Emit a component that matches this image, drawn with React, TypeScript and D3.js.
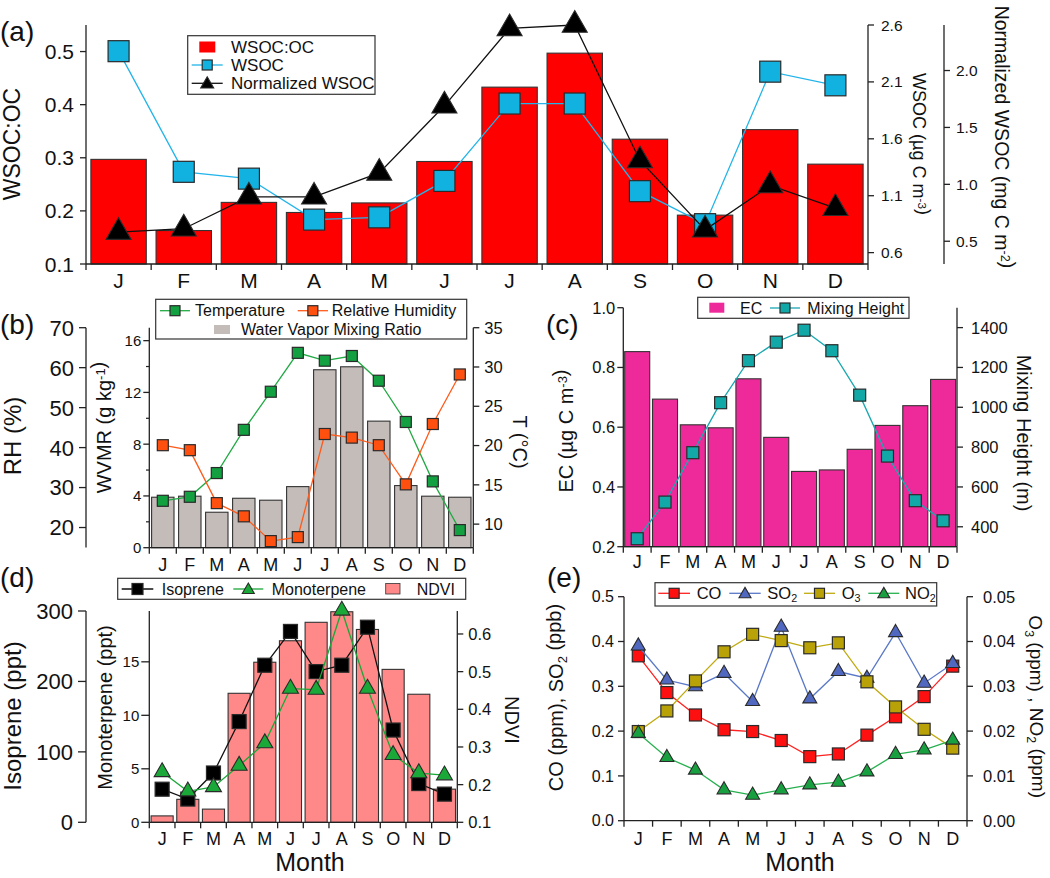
import React from "react";
import * as d3 from "d3";

const FONT = "'Liberation Sans', Arial, Helvetica, sans-serif";
const AXIS = "#222";
const MARK_STROKE = "#2a2a2a";

const monthLabels = ["J", "F", "M", "A", "M", "J", "J", "A", "S", "O", "N", "D"];
const idx = d3.range(12);

// (a)
const wsocOcRatio = [0.297, 0.163, 0.216, 0.197, 0.215, 0.293, 0.433, 0.497, 0.335, 0.192, 0.353, 0.288];
const wsocConc = [2.37, 1.31, 1.25, 0.89, 0.91, 1.23, 1.91, 1.91, 1.14, 0.85, 2.19, 2.07];
const normalizedWsoc = [0.58, 0.61, 0.89, 0.89, 1.1, 1.69, 2.37, 2.4, 1.21, 0.6, 0.99, 0.79];
const ticksRatio = [0.1, 0.2, 0.3, 0.4, 0.5];
const ticksWsoc = [0.6, 1.1, 1.6, 2.1, 2.6];
const ticksNorm = [0.5, 1.0, 1.5, 2.0];

// (b)
const wvmr = [3.9, 3.98, 2.74, 3.82, 3.67, 4.72, 13.75, 13.98, 9.78, 4.8, 3.98, 3.9];
const temperature = [12.97, 13.48, 16.5, 22.0, 26.85, 31.8, 30.8, 31.4, 28.25, 23.0, 15.44, 9.24];
const relHumidity = [40.6, 39.35, 26.1, 22.8, 16.6, 17.6, 43.4, 42.5, 40.6, 30.8, 45.9, 58.3];
const ticksRH = [20, 30, 40, 50, 60, 70];
const ticksWvmr = [0, 4, 8, 12, 16];
const minorWvmr = [2, 6, 10, 14];
const ticksT = [10, 15, 20, 25, 30, 35];

// (c)
const ec = [0.853, 0.694, 0.608, 0.598, 0.762, 0.566, 0.452, 0.457, 0.526, 0.606, 0.672, 0.76];
const mixingHeight = [340, 524, 772, 1023, 1234, 1327, 1387, 1284, 1061, 755, 531, 430];
const ticksEC = [0.2, 0.4, 0.6, 0.8, 1.0];
const ticksMH = [400, 600, 800, 1000, 1200, 1400];

// (d)
const ndvi = [0.117, 0.161, 0.135, 0.4425, 0.525, 0.582, 0.631, 0.659, 0.612, 0.506, 0.44, 0.188];
const isoprene = [47, 33, 70, 143, 223, 271, 214, 223, 277, 131, 55, 40];
const monoterpene = [4.7, 2.9, 3.3, 5.3, 7.4, 12.5, 12.4, 19.8, 12.5, 6.3, 4.6, 4.4];
const ticksIso = [0, 100, 200, 300];
const ticksMono = [0, 5, 10, 15];
const ticksNdvi = [0.1, 0.2, 0.3, 0.4, 0.5, 0.6];

// (e)
const co = [0.368, 0.286, 0.236, 0.203, 0.199, 0.179, 0.143, 0.149, 0.191, 0.232, 0.277, 0.345];
const so2 = [0.39, 0.314, 0.299, 0.329, 0.266, 0.432, 0.272, 0.333, 0.318, 0.42, 0.307, 0.351];
const o3 = [0.0199, 0.0245, 0.0312, 0.0377, 0.0416, 0.0402, 0.0386, 0.0397, 0.031, 0.0254, 0.0204, 0.0162];
const no2 = [0.0195, 0.0141, 0.0113, 0.0069, 0.0057, 0.0069, 0.008, 0.0086, 0.0109, 0.0148, 0.0158, 0.018];
const ticksE = [0, 0.1, 0.2, 0.3, 0.4, 0.5];
const ticksE2 = [0, 0.01, 0.02, 0.03, 0.04, 0.05];

type Lin = d3.ScaleLinear<number, number>;
type Band = d3.ScaleBand<number>;

function band(x0: number, x1: number, p: number): Band {
  return d3.scaleBand<number>().domain(idx).range([x0, x1]).paddingInner(p).paddingOuter(p / 2);
}

function YAxis(props: {
  scale: Lin; x: number; side: "left" | "right"; ticks: number[]; fmt: (v: number) => string;
  fontSize: number; tickLen?: number; gap?: number; minor?: number[]; y0?: number; y1?: number;
}) {
  const { scale, x, side, ticks, fmt, fontSize, tickLen = 6, gap = 4, minor = [] } = props;
  const r = scale.range();
  const y0 = props.y0 ?? r[0];
  const y1 = props.y1 ?? r[1];
  const d = side === "left" ? -1 : 1;
  return (
    <g>
      <line x1={x} x2={x} y1={y0} y2={y1} stroke={AXIS} strokeWidth={1.3} />
      {ticks.map((t) => (
        <g key={"t" + t}>
          <line x1={x} x2={x + d * tickLen} y1={scale(t)} y2={scale(t)} stroke={AXIS} strokeWidth={1.3} />
          <text x={x + d * (tickLen + gap)} y={scale(t)} dy="0.36em" textAnchor={side === "left" ? "end" : "start"} fontSize={fontSize}>
            {fmt(t)}
          </text>
        </g>
      ))}
      {minor.map((t) => (
        <line key={"m" + t} x1={x} x2={x + d * tickLen * 0.55} y1={scale(t)} y2={scale(t)} stroke={AXIS} strokeWidth={1.2} />
      ))}
    </g>
  );
}

function XAxis(props: { xs: Band; y: number; fontSize: number; labelY: number; tickLen?: number }) {
  const { xs, y, fontSize, labelY, tickLen = 6 } = props;
  const [x0, x1] = xs.range();
  const step = xs.step();
  return (
    <g>
      <line x1={x0} x2={x1} y1={y} y2={y} stroke={AXIS} strokeWidth={1.3} />
      {d3.range(13).map((i) => (
        <line key={i} x1={x0 + i * step} x2={x0 + i * step} y1={y} y2={y + tickLen} stroke={AXIS} strokeWidth={1.3} />
      ))}
      {monthLabels.map((l, i) => (
        <text key={i} x={x0 + (i + 0.5) * step} y={labelY} textAnchor="middle" fontSize={fontSize}>
          {l}
        </text>
      ))}
    </g>
  );
}

function Bars(props: { xs: Band; ys: Lin; data: number[]; fill: string }) {
  const { xs, ys, data, fill } = props;
  const base = ys(ys.domain()[0]);
  return (
    <g>
      {data.map((v, i) => (
        <rect key={i} x={xs(i)} y={ys(v)} width={xs.bandwidth()} height={base - ys(v)} fill={fill} stroke="#333" strokeWidth={1.1} />
      ))}
    </g>
  );
}

function Square(props: { x: number; y: number; s: number; fill: string }) {
  const { x, y, s, fill } = props;
  return <rect x={x - s / 2} y={y - s / 2} width={s} height={s} fill={fill} stroke={MARK_STROKE} strokeWidth={1.2} />;
}

function Tri(props: { x: number; y: number; w: number; fill: string }) {
  const { x, y, w, fill } = props;
  const area = (Math.sqrt(3) / 4) * w * w;
  const p = d3.symbol().type(d3.symbolTriangle).size(area)() as string;
  return <path d={p} transform={`translate(${x},${y})`} fill={fill} stroke={MARK_STROKE} strokeWidth={1.1} />;
}

function Series(props: {
  xs: Band; ys: Lin; data: number[]; line: string; fill: string; shape: "sq" | "tri"; size: number; lw?: number;
}) {
  const { xs, ys, data, line, fill, shape, size, lw = 1.3 } = props;
  const cx = (i: number) => (xs(i) as number) + xs.bandwidth() / 2;
  const gen = d3.line<number>().x((_, i) => cx(i)).y((d) => ys(d));
  return (
    <g>
      <path d={gen(data) as string} fill="none" stroke={line} strokeWidth={lw} />
      {data.map((v, i) =>
        shape === "sq" ? (
          <Square key={i} x={cx(i)} y={ys(v)} s={size} fill={fill} />
        ) : (
          <Tri key={i} x={cx(i)} y={ys(v)} w={size} fill={fill} />
        )
      )}
    </g>
  );
}

function VLabel(props: { x: number; y: number; rot: number; fontSize: number; children: React.ReactNode }) {
  const { x, y, rot, fontSize, children } = props;
  return (
    <text transform={`translate(${x},${y}) rotate(${rot})`} textAnchor="middle" fontSize={fontSize}>
      {children}
    </text>
  );
}

const Sup = (props: { t: string }) => (
  <>
    <tspan dy="-0.45em" fontSize="0.65em">{props.t}</tspan>
    <tspan dy="0.3em">{""}</tspan>
  </>
);

function LegendLine(props: { x0: number; x1: number; y: number; color: string; shape: "sq" | "tri"; fill: string; size: number }) {
  const { x0, x1, y, color, shape, fill, size } = props;
  const cx = (x0 + x1) / 2;
  return (
    <g>
      <line x1={x0} x2={x1} y1={y} y2={y} stroke={color} strokeWidth={1.3} />
      {shape === "sq" ? <Square x={cx} y={y} s={size} fill={fill} /> : <Tri x={cx} y={y + 1} w={size} fill={fill} />}
    </g>
  );
}

export default function App() {
  const f1 = (v: number) => d3.format(".1f")(v);
  const f2 = (v: number) => d3.format(".2f")(v);
  const f0 = (v: number) => d3.format("d")(v);

  // Panel a
  const xA = band(86, 868, 0.15);
  const yA = d3.scaleLinear().domain([0.1, 0.55]).range([264, 25]);
  const yA2 = d3.scaleLinear().domain([0.5, 2.6]).range([264, 25]);
  const yA3 = d3.scaleLinear().domain([0.3, 2.4]).range([264, 25]);

  // Panel b
  const xB = band(149.3, 473.3, 0.17);
  const yRH = d3.scaleLinear().domain([15, 70]).range([547.5, 327.7]);
  const yW = d3.scaleLinear().domain([0, 17]).range([547.7, 327.7]);
  const yT = d3.scaleLinear().domain([7, 35]).range([547.7, 327.7]);

  // Panel c
  const xC = band(623.3, 957, 0.1);
  const yEC = d3.scaleLinear().domain([0.2, 1.0]).range([546.7, 307.7]);
  const yMH = d3.scaleLinear().domain([300, 1500]).range([546.7, 307.7]);

  // Panel d
  const xD = band(149.3, 457.3, 0.14);
  const yIso = d3.scaleLinear().domain([0, 300]).range([822.3, 611]);
  const yMono = d3.scaleLinear().domain([0, 19.75]).range([822.3, 611]);
  const yNdvi = d3.scaleLinear().domain([0.1, 0.661]).range([822.3, 611]);

  // Panel e
  const xE = band(624, 967, 0.1);
  const yE = d3.scaleLinear().domain([0, 0.5]).range([820.7, 596.7]);
  const yE2 = d3.scaleLinear().domain([0, 0.05]).range([820.7, 596.7]);

  return (
    <svg width={1050} height={878} style={{ display: "block", position: "absolute", left: 0, top: 0, background: "#fff" }} fontFamily={FONT} fill="#111">
      {/* ---------- (a) ---------- */}
      <text x={0} y={41} fontSize={28}>(a)</text>
      <Bars xs={xA} ys={yA} data={wsocOcRatio} fill="#ff0000" />
      <Series xs={xA} ys={yA2} data={wsocConc} line="#22b4ea" fill="#12b2e0" shape="sq" size={21} />
      <Series xs={xA} ys={yA3} data={normalizedWsoc} line="#111" fill="#000" shape="tri" size={25} />
      <YAxis scale={yA} x={86} side="left" ticks={ticksRatio} fmt={f1} fontSize={21} tickLen={6} gap={6} />
      <YAxis scale={yA2} x={868} side="right" ticks={ticksWsoc} fmt={f1} fontSize={15.5} tickLen={6} gap={7} />
      <YAxis scale={yA3} x={944} side="right" ticks={ticksNorm} fmt={f1} fontSize={15.5} tickLen={6} gap={6} />
      <XAxis xs={xA} y={264} fontSize={21} labelY={288} />
      <VLabel x={20} y={144} rot={-90} fontSize={23}>WSOC:OC</VLabel>
      <VLabel x={913} y={144} rot={90} fontSize={18}>
        WSOC (µg C m<Sup t="-3" />)
      </VLabel>
      <VLabel x={995} y={137} rot={90} fontSize={19.5}>
        Normalized WSOC (mg C m<Sup t="-2" />)
      </VLabel>
      <g>
        <rect x={187.7} y={35.7} width={187.3} height={58.6} fill="#fff" stroke="#333" strokeWidth={1.2} />
        <rect x={199.3} y={41.5} width={16} height={11} fill="#ff0000" />
        <text x={231} y={46.7} dy="0.36em" fontSize={17}>WSOC:OC</text>
        <LegendLine x0={191.7} x1={222.7} y={65} color="#22b4ea" shape="sq" fill="#12b2e0" size={10} />
        <text x={231} y={65} dy="0.36em" fontSize={17}>WSOC</text>
        <LegendLine x0={191.7} x1={222.7} y={83.3} color="#111" shape="tri" fill="#000" size={13} />
        <text x={231} y={83.3} dy="0.36em" fontSize={17}>Normalized WSOC</text>
      </g>

      {/* ---------- (b) ---------- */}
      <text x={0} y={334} fontSize={28}>(b)</text>
      <Bars xs={xB} ys={yW} data={wvmr} fill="#c4bcb9" />
      <Series xs={xB} ys={yT} data={temperature} line="#22aa44" fill="#12a040" shape="sq" size={11} />
      <Series xs={xB} ys={yRH} data={relHumidity} line="#ff5a1a" fill="#ff5010" shape="sq" size={11} />
      <YAxis scale={yRH} x={86} side="left" ticks={ticksRH} fmt={f0} fontSize={22} tickLen={7} gap={5} />
      <YAxis scale={yW} x={149.3} side="left" ticks={ticksWvmr} fmt={f0} fontSize={15} tickLen={6} gap={2} minor={minorWvmr} />
      <YAxis scale={yT} x={473.3} side="right" ticks={ticksT} fmt={f0} fontSize={16.5} tickLen={6} gap={5} />
      <XAxis xs={xB} y={547.7} fontSize={18} labelY={570.5} />
      <VLabel x={20.5} y={436} rot={-90} fontSize={24}>RH (%)</VLabel>
      <VLabel x={111} y={427.5} rot={-90} fontSize={20}>
        WVMR (g kg<Sup t="-1" />)
      </VLabel>
      <VLabel x={513} y={442} rot={90} fontSize={20}>T (°C)</VLabel>
      <g>
        <rect x={155.7} y={299.3} width={311} height={39.7} fill="#fff" stroke="#333" strokeWidth={1.2} />
        <LegendLine x0={160} x1={190} y={310.7} color="#22aa44" shape="sq" fill="#12a040" size={10} />
        <text x={195} y={310.7} dy="0.36em" fontSize={16}>Temperature</text>
        <LegendLine x0={297.7} x1={328} y={310.7} color="#ff5a1a" shape="sq" fill="#ff5010" size={10} />
        <text x={331.7} y={310.7} dy="0.36em" fontSize={16}>Relative Humidity</text>
        <rect x={214} y={325} width={16} height={9} fill="#c4bcb9" />
        <text x={241} y={329.3} dy="0.36em" fontSize={16}>Water Vapor Mixing Ratio</text>
      </g>

      {/* ---------- (c) ---------- */}
      <text x={546} y={334} fontSize={28}>(c)</text>
      <Bars xs={xC} ys={yEC} data={ec} fill="#ee2a9a" />
      <Series xs={xC} ys={yMH} data={mixingHeight} line="#1aa8b0" fill="#12a8a8" shape="sq" size={12} />
      <YAxis scale={yEC} x={623.3} side="left" ticks={ticksEC} fmt={f1} fontSize={16.5} tickLen={6} gap={2} />
      <YAxis scale={yMH} x={957} side="right" ticks={ticksMH} fmt={f0} fontSize={16.5} tickLen={6} gap={8} />
      <XAxis xs={xC} y={546.7} fontSize={18} labelY={568.3} />
      <VLabel x={572.5} y={431} rot={-90} fontSize={20}>
        EC (µg C m<Sup t="-3" />)
      </VLabel>
      <VLabel x={1017} y={433} rot={90} fontSize={20}>Mixing Height (m)</VLabel>
      <g>
        <rect x={697.7} y={297.3} width={211.3} height={21} fill="#fff" stroke="#333" strokeWidth={1.2} />
        <rect x={709.3} y={302.7} width={15} height={10} fill="#ee2a9a" />
        <text x={740} y={308} dy="0.36em" fontSize={16}>EC</text>
        <LegendLine x0={770} x1={800} y={308} color="#1aa8b0" shape="sq" fill="#12a8a8" size={10} />
        <text x={807.3} y={308} dy="0.36em" fontSize={16}>Mixing Height</text>
      </g>

      {/* ---------- (d) ---------- */}
      <text x={0} y={587} fontSize={28}>(d)</text>
      <Bars xs={xD} ys={yNdvi} data={ndvi} fill="#ff8888" />
      <Series xs={xD} ys={yIso} data={isoprene} line="#111" fill="#000" shape="sq" size={14} />
      <Series xs={xD} ys={yMono} data={monoterpene} line="#1aa838" fill="#1aa838" shape="tri" size={16} />
      <YAxis scale={yIso} x={86} side="left" ticks={ticksIso} fmt={f0} fontSize={22} tickLen={8} gap={5} />
      <YAxis scale={yMono} x={149.3} side="left" ticks={ticksMono} fmt={f0} fontSize={15} tickLen={8} gap={2} />
      <YAxis scale={yNdvi} x={457.3} side="right" ticks={ticksNdvi} fmt={f1} fontSize={16.5} tickLen={6} gap={5} />
      <XAxis xs={xD} y={822.3} fontSize={18} labelY={845} />
      <text x={310} y={871} textAnchor="middle" fontSize={25}>Month</text>
      <VLabel x={20.7} y={716} rot={-90} fontSize={24}>Isoprene (ppt)</VLabel>
      <VLabel x={111.7} y={707.5} rot={-90} fontSize={20}>Monoterpene (ppt)</VLabel>
      <VLabel x={505} y={720} rot={90} fontSize={20}>NDVI</VLabel>
      <g>
        <rect x={117.7} y={578.3} width={348} height={21} fill="#fff" stroke="#333" strokeWidth={1.2} />
        <LegendLine x0={121.7} x1={153.3} y={589} color="#111" shape="sq" fill="#000" size={11} />
        <text x={161.7} y={589} dy="0.36em" fontSize={16}>Isoprene</text>
        <LegendLine x0={233.3} x1={263.3} y={589} color="#1aa838" shape="tri" fill="#1aa838" size={12} />
        <text x={271.7} y={589} dy="0.36em" fontSize={16}>Monoterpene</text>
        <rect x={385.7} y={583.5} width={14.3} height={10.5} fill="#ff8888" stroke="#333" strokeWidth={0.8} />
        <text x={416.7} y={589} dy="0.36em" fontSize={16}>NDVI</text>
      </g>

      {/* ---------- (e) ---------- */}
      <text x={547} y={587} fontSize={28}>(e)</text>
      <Series xs={xE} ys={yE} data={co} line="#ff2020" fill="#ff1010" shape="sq" size={12} />
      <Series xs={xE} ys={yE} data={so2} line="#5a78c8" fill="#5068c0" shape="tri" size={14} />
      <Series xs={xE} ys={yE2} data={o3} line="#c0aa10" fill="#b8a208" shape="sq" size={12} />
      <Series xs={xE} ys={yE2} data={no2} line="#28b050" fill="#18a040" shape="tri" size={14} />
      <YAxis scale={yE} x={624} side="left" ticks={ticksE} fmt={f1} fontSize={16} tickLen={6} gap={4} />
      <YAxis scale={yE2} x={967} side="right" ticks={ticksE2} fmt={f2} fontSize={16.5} tickLen={6} gap={10} />
      <XAxis xs={xE} y={820.7} fontSize={18} labelY={845} />
      <text x={800} y={871} textAnchor="middle" fontSize={25}>Month</text>
      <VLabel x={563.3} y={697.5} rot={-90} fontSize={20}>
        CO (ppm), SO<tspan dy="0.3em" fontSize="0.65em">2</tspan><tspan dy="-0.3em"> (ppb)</tspan>
      </VLabel>
      <VLabel x={1028.5} y={706.7} rot={90} fontSize={19}>
        O<tspan dy="0.3em" fontSize="0.65em">3</tspan><tspan dy="-0.3em"> (ppm) , NO</tspan>
        <tspan dy="0.3em" fontSize="0.65em">2</tspan><tspan dy="-0.3em"> (ppm)</tspan>
      </VLabel>
      <g>
        <rect x={655} y={582.7} width={281.7} height={23.3} fill="#fff" stroke="#333" strokeWidth={1.2} />
        <LegendLine x0={658.3} x1={690} y={593.3} color="#ff2020" shape="sq" fill="#ff1010" size={10} />
        <text x={696.7} y={593.3} dy="0.36em" fontSize={16.5}>CO</text>
        <LegendLine x0={729.3} x1={760.7} y={593.3} color="#5a78c8" shape="tri" fill="#5068c0" size={12} />
        <text x={767.3} y={593.3} dy="0.36em" fontSize={16.5}>
          SO<tspan dy="0.3em" fontSize="0.65em">2</tspan>
        </text>
        <LegendLine x0={804} x1={835} y={593.3} color="#c0aa10" shape="sq" fill="#b8a208" size={10} />
        <text x={841.7} y={593.3} dy="0.36em" fontSize={16.5}>
          O<tspan dy="0.3em" fontSize="0.65em">3</tspan>
        </text>
        <LegendLine x0={868.3} x1={899.3} y={593.3} color="#28b050" shape="tri" fill="#18a040" size={12} />
        <text x={905} y={593.3} dy="0.36em" fontSize={16.5}>
          NO<tspan dy="0.3em" fontSize="0.65em">2</tspan>
        </text>
      </g>
    </svg>
  );
}
